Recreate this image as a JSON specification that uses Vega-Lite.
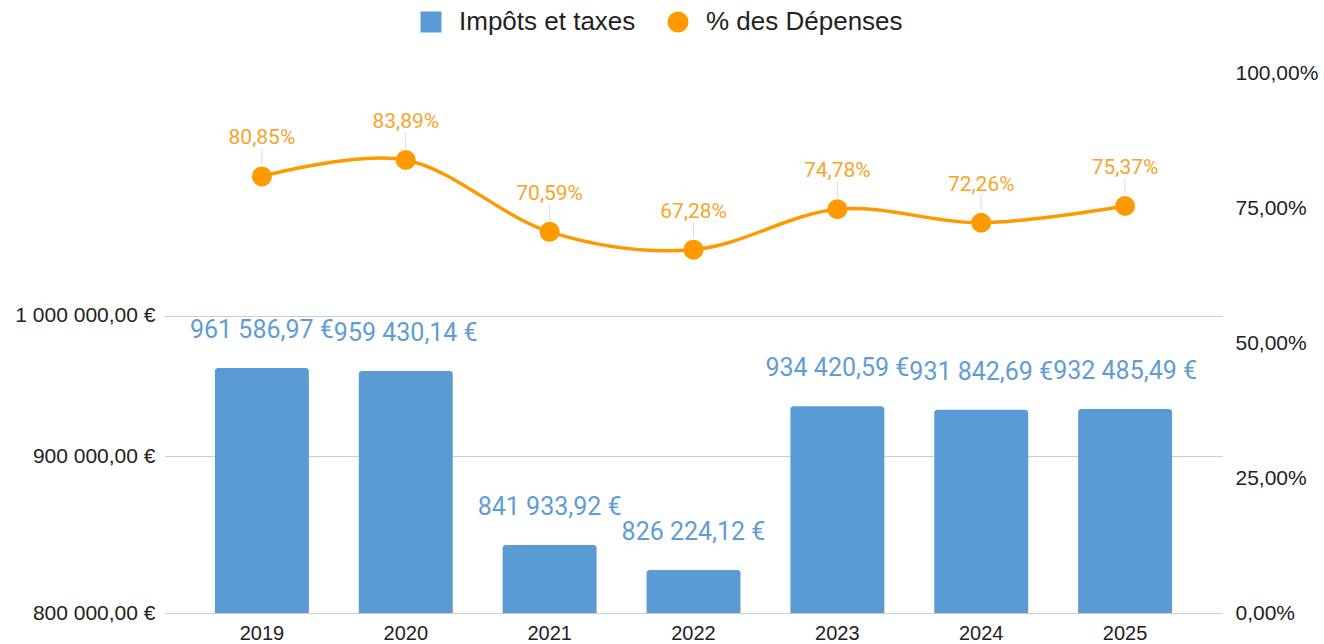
{
  "$schema": "https://vega.github.io/schema/vega-lite/v6.json",
  "autosize": {"type": "none"},
  "padding": {"left": 165, "top": 73, "right": 102, "bottom": 31},
  "width": 1057,
  "height": 540,
  "background": "white",
  "config": {
    "locale": {
      "number": {"decimal": ",", "thousands": " ", "grouping": [3], "currency": ["", " €"], "percent": "%"}
    },
    "view": {"stroke": null},
    "axis": {"labelFont": "Liberation Sans", "labelFontSize": 21, "labelColor": "#222222", "ticks": false, "domain": false, "title": null},
    "legend": {"labelFont": "Liberation Sans", "labelFontSize": 26, "labelColor": "#222222", "padding": 0, "labelLimit": 400}
  },
  "data": {
    "values": [
      {"annee": "2019", "impots": 961586.97, "pct": 0.8085},
      {"annee": "2020", "impots": 959430.14, "pct": 0.8389},
      {"annee": "2021", "impots": 841933.92, "pct": 0.7059},
      {"annee": "2022", "impots": 826224.12, "pct": 0.6728},
      {"annee": "2023", "impots": 934420.59, "pct": 0.7478},
      {"annee": "2024", "impots": 931842.69, "pct": 0.7226},
      {"annee": "2025", "impots": 932485.49, "pct": 0.7537}
    ]
  },
  "encoding": {
    "x": {
      "field": "annee", "type": "nominal", "sort": null,
      "scale": {"paddingInner": 0.347, "paddingOuter": 0.347},
      "axis": {"labelAngle": 0, "labelPadding": 10, "labelFontSize": 20, "grid": false}
    }
  },
  "layer": [
    {
      "encoding": {
        "y": {
          "field": "impots", "type": "quantitative",
          "scale": {"type": "log", "domain": [800000, 1200000], "nice": false},
          "axis": {"orient": "left", "values": [800000, 900000, 1000000], "format": "$,.2f", "grid": true, "gridColor": "#cccccc", "gridWidth": 1.2, "labelPadding": 10}
        }
      },
      "layer": [
        {
          "mark": {"type": "bar", "cornerRadiusTopLeft": 3, "cornerRadiusTopRight": 3},
          "encoding": {
            "y2": {"datum": 800000},
            "color": {
              "datum": "Impôts et taxes",
              "scale": {"domain": ["Impôts et taxes", "% des Dépenses"], "range": ["#5b9bd5", "#ff9900"]},
              "legend": {
                "orient": "none", "legendX": 253, "legendY": -64, "direction": "horizontal",
                "title": null, "symbolSize": 441, "labelOffset": 15, "columnPadding": 29,
                "symbolStrokeWidth": 0, "symbolOpacity": 1,
                "encode": {"symbols": {"update": {"shape": {"signal": "datum.label === 'Impôts et taxes' ? 'square' : 'circle'"}}}}
              }
            }
          }
        },
        {
          "mark": {"type": "text", "font": "Roboto", "fontSize": 25, "color": "#5f9dd6", "baseline": "middle", "dy": -38},
          "encoding": {"text": {"field": "impots", "type": "quantitative", "format": "$,.2f"}}
        }
      ]
    },
    {
      "encoding": {
        "y": {
          "field": "pct", "type": "quantitative",
          "scale": {"domain": [0, 1], "nice": false, "zero": true},
          "axis": {"orient": "right", "values": [0, 0.25, 0.5, 0.75, 1], "format": ".2%", "grid": false, "labelPadding": 13}
        }
      },
      "layer": [
        {
          "mark": {"type": "line", "interpolate": "cardinal", "color": "#ff9900", "strokeWidth": 3.5}
        },
        {
          "mark": {"type": "rule", "color": "#dddddd", "strokeWidth": 1, "yOffset": -12, "y2Offset": -28},
          "encoding": {"y2": {"field": "pct"}}
        },
        {
          "mark": {"type": "point", "filled": true, "opacity": 1, "size": 400},
          "encoding": {"color": {"datum": "% des Dépenses"}}
        },
        {
          "mark": {"type": "text", "font": "Roboto", "fontSize": 21, "color": "#f5a52c", "baseline": "middle", "dy": -38},
          "encoding": {"text": {"field": "pct", "type": "quantitative", "format": ".2%"}}
        }
      ]
    }
  ],
  "resolve": {"scale": {"y": "independent"}}
}
